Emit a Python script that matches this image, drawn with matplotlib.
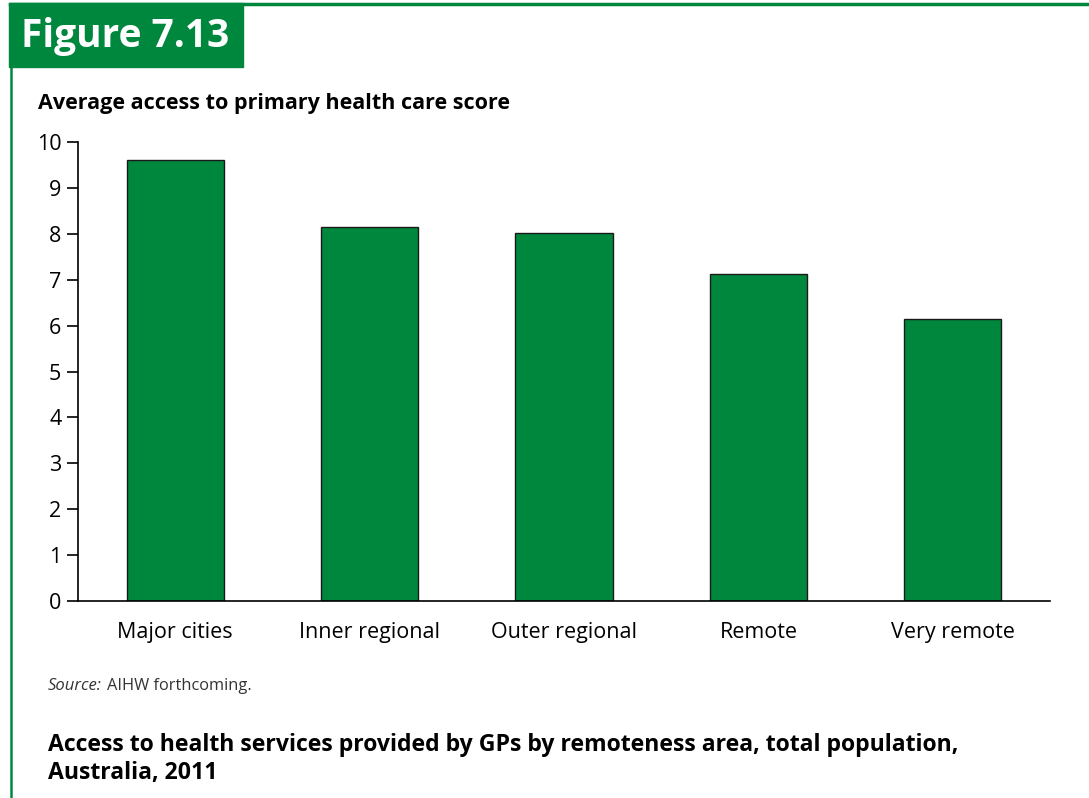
import matplotlib.pyplot as plt
from matplotlib.patches import Rectangle
from matplotlib.lines import Line2D

plt.rcParams['font.family'] = ['Open Sans', 'DejaVu Sans']

regions = ['Major cities', 'Inner regional', 'Outer regional', 'Remote', 'Very remote']
scores = [9.61, 8.15, 8.02, 7.12, 6.14]
y_ticks = [0, 1, 2, 3, 4, 5, 6, 7, 8, 9, 10]

green = '#00873E'
W, H = 1089, 798

fig = plt.figure(figsize=(W / 100, H / 100), dpi=100)

# frame: top rule, left rule, figure number box
fig.add_artist(Line2D([10 / W, 1.0], [1 - 4 / H, 1 - 4 / H], color=green, lw=2.5))
fig.add_artist(Line2D([11 / W, 11 / W], [0, 1 - 4 / H], color=green, lw=1.8))
fig.add_artist(Rectangle((9 / W, 1 - 67 / H), 234 / W, 64 / H, color=green,
                         transform=fig.transFigure))
fig.text(21 / W, 1 - 36 / H, 'Figure 7.13', color='white', fontsize=28,
         fontweight='bold', va='center', ha='left')

ax = fig.add_axes([78 / W, 1 - 601 / H, 972 / W, 459 / H])
ax.bar(range(len(regions)), scores, width=0.5, color=green, edgecolor='#1a1a1a', linewidth=1)
ax.set_xlim(-0.5, len(regions) - 0.5)
ax.set_ylim(0, 10)
ax.set_yticks(y_ticks)
ax.set_xticks(range(len(regions)))
ax.set_xticklabels(regions)
ax.spines['top'].set_visible(False)
ax.spines['right'].set_visible(False)
ax.tick_params(axis='y', length=8, width=1.2, labelsize=15.5, pad=4)
ax.tick_params(axis='x', length=0, labelsize=15.5, pad=15)
for s in ['left', 'bottom']:
    ax.spines[s].set_linewidth(1.2)

fig.text(38 / W, 1 - 103 / H, 'Average access to primary health care score',
         fontsize=15.5, fontweight='bold', va='center', ha='left')

fig.text(48 / W, 1 - 686 / H, 'Source:', fontsize=12, style='italic',
         color='#333333', va='center', ha='left')
fig.text(107 / W, 1 - 686 / H, 'AIHW forthcoming.', fontsize=11.8,
         color='#333333', va='center', ha='left')

fig.text(48 / W, 1 - 745 / H,
         'Access to health services provided by GPs by remoteness area, total population,',
         fontsize=16.6, fontweight='bold', va='center', ha='left')
fig.text(48 / W, 1 - 773 / H, 'Australia, 2011', fontsize=16.6, fontweight='bold',
         va='center', ha='left')

fig.savefig('out.png', dpi=100)
